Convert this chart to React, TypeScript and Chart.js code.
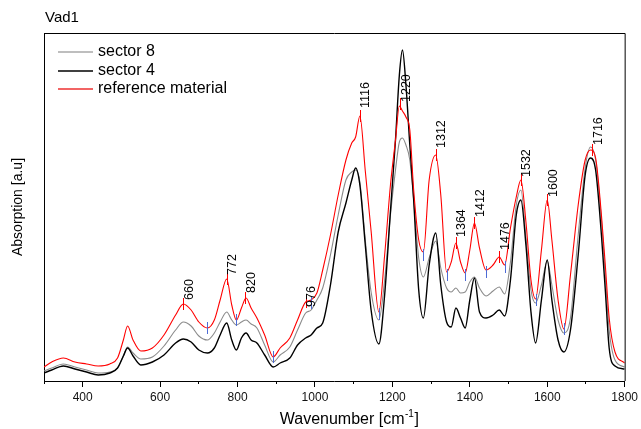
import React, { useEffect, useRef } from 'react';
import { Chart, registerables } from 'chart.js';

Chart.register(...registerables);

const FONT = 'Arial, "Liberation Sans", sans-serif';

const wavenumbers = [300,320,350,380,410,440,470,490,505,516,530,550,580,610,640,660,680,700,722,740,755,772,785,797,810,822,835,850,870,892,910,935,955,976,990,1005,1020,1040,1060,1080,1095,1105,1116,1130,1145,1165,1180,1195,1208,1218,1226,1235,1245,1255,1268,1280,1295,1312,1325,1340,1352,1364,1376,1388,1400,1412,1425,1442,1460,1476,1490,1505,1520,1532,1545,1558,1570,1585,1600,1612,1628,1643,1660,1680,1698,1712,1725,1740,1750,1760,1775,1800];

const sector8 = [0.10,0.13,0.17,0.14,0.11,0.08,0.09,0.13,0.25,0.34,
0.28,0.22,0.24,0.35,0.51,0.59,0.55,0.45,0.41,0.48,
0.59,0.69,0.61,0.56,0.59,0.61,0.57,0.53,0.36,0.19,
0.26,0.34,0.51,0.68,0.71,0.81,0.93,1.26,1.66,2.01,
2.09,2.11,1.99,1.41,0.89,0.61,1.01,1.66,2.11,2.39,
2.43,2.36,2.21,1.81,1.23,1.04,1.23,1.40,1.13,0.93,
0.89,0.93,0.88,0.89,0.99,1.04,0.93,0.85,0.90,0.94,
0.87,1.19,1.76,1.91,1.43,0.91,0.78,0.96,1.20,0.96,
0.61,0.48,0.63,1.46,2.13,2.34,2.21,1.61,1.06,0.51,
0.21,0.14];

const sector4 = [0.08,0.11,0.15,0.12,0.09,0.06,0.08,0.13,0.25,0.33,
0.25,0.16,0.19,0.26,0.38,0.42,0.39,0.31,0.28,0.33,
0.46,0.58,0.41,0.31,0.43,0.48,0.41,0.38,0.26,0.14,
0.18,0.23,0.36,0.43,0.46,0.53,0.58,0.96,1.49,1.78,
2.01,2.13,1.96,1.36,0.71,0.37,0.86,1.70,2.41,3.06,
3.31,2.96,2.36,1.81,0.91,0.63,1.16,1.48,0.96,0.59,
0.54,0.73,0.63,0.53,0.81,1.03,0.69,0.63,0.66,0.71,
0.65,1.01,1.66,1.81,1.36,0.69,0.38,0.81,1.21,0.81,
0.41,0.29,0.51,1.26,2.06,2.23,2.11,1.46,0.91,0.33,
0.15,0.12];

const referenceMaterial = [0.14,0.19,0.23,0.19,0.17,0.15,0.17,0.23,0.41,0.55,
0.41,0.30,0.33,0.46,0.66,0.77,0.71,0.59,0.53,0.61,
0.81,1.02,0.76,0.61,0.73,0.83,0.73,0.63,0.46,0.24,
0.33,0.43,0.61,0.79,0.81,0.88,1.11,1.46,1.86,2.21,
2.38,2.44,2.65,2.10,1.50,0.69,1.26,1.96,2.41,2.75,
2.70,2.64,2.51,1.91,1.41,1.29,2.01,2.26,1.86,1.09,
1.19,1.38,1.19,1.08,1.31,1.58,1.33,1.11,1.16,1.24,
1.16,1.53,1.84,2.01,1.59,1.01,0.82,1.31,1.81,1.41,
0.81,0.52,1.06,1.76,2.21,2.31,2.23,1.66,1.16,0.63,
0.29,0.18];

const seriesNames = ['sector 8', 'sector 4', 'reference material'];
const seriesColors = ['#8a8a8a', '#000000', '#ff0000'];
const legendColors = ['#a8a8a8', '#000000', '#ee3030'];

const majorTicks = [400, 600, 800, 1000, 1200, 1400, 1600, 1800];
const minorTicks = [300, 500, 700, 900, 1100, 1300, 1500, 1700];

const peakLabels = [660, 772, 820, 976, 1116, 1220, 1312, 1364, 1412, 1476, 1532, 1600, 1716];
const peakHeights = [0.77, 1.02, 0.83, 0.79, 2.65, 2.77, 2.26, 1.38, 1.58, 1.24, 2.01, 1.81, 2.31];
const labelBases = [0.81, 1.06, 0.88, 0.74, 2.73, 2.79, 2.33, 1.44, 1.64, 1.31, 2.04, 1.84, 2.36];

const minimaWn = [722, 797, 892, 990, 1165, 1280, 1340, 1388, 1442, 1490, 1570, 1643];
const minimaHeights = [0.53, 0.61, 0.24, 0.78, 0.67, 1.26, 1.06, 1.06, 1.09, 1.14, 0.81, 0.52];

const chartTitle = 'Vad1';
const xTitleMain = 'Wavenumber [cm';
const xTitleSup = '-1';
const xTitleEnd = ']';
const yTitle = 'Absorption [a.u]';

const decorPlugin = {
  id: 'decor',
  afterDatasetsDraw(chart: any) {
    const { ctx, scales } = chart;
    const xs = scales.x;
    const ys = scales.y;
    ctx.save();
    ctx.lineWidth = 1;
    ctx.strokeStyle = '#4d6bd6';
    minimaWn.forEach((w, i) => {
      const px = Math.round(xs.getPixelForValue(w)) + 0.5;
      const py = ys.getPixelForValue(minimaHeights[i]);
      ctx.beginPath();
      ctx.moveTo(px, py - 6);
      ctx.lineTo(px, py + 6);
      ctx.stroke();
    });
    ctx.strokeStyle = '#ff0000';
    peakLabels.forEach((w, i) => {
      const px = Math.round(xs.getPixelForValue(w)) + 0.5;
      const py = ys.getPixelForValue(peakHeights[i]);
      ctx.beginPath();
      ctx.moveTo(px, py - 6);
      ctx.lineTo(px, py + 6);
      ctx.stroke();
    });
    ctx.fillStyle = '#000000';
    ctx.font = `12.5px ${FONT}`;
    ctx.textAlign = 'left';
    ctx.textBaseline = 'middle';
    peakLabels.forEach((w, i) => {
      const px = xs.getPixelForValue(w) + 6;
      const py = ys.getPixelForValue(labelBases[i]);
      ctx.save();
      ctx.translate(px, py);
      ctx.rotate(-Math.PI / 2);
      ctx.fillText(String(w), 0, 0);
      ctx.restore();
    });
    ctx.restore();
  },
  afterDraw(chart: any) {
    const { ctx, chartArea: a } = chart;
    ctx.save();
    // frame
    ctx.strokeStyle = '#000000';
    ctx.lineWidth = 1;
    ctx.beginPath();
    ctx.moveTo(a.left, a.top + 0.5);
    ctx.lineTo(a.right + 0.5, a.top + 0.5);
    ctx.lineTo(a.right + 0.5, a.bottom);
    ctx.stroke();
    // legend
    ctx.font = `16px ${FONT}`;
    ctx.textAlign = 'left';
    ctx.textBaseline = 'middle';
    seriesNames.forEach((name, i) => {
      const y = Math.round(a.top + 19 + i * 18.5);
      ctx.strokeStyle = legendColors[i];
      ctx.lineWidth = 1.3;
      ctx.beginPath();
      ctx.moveTo(a.left + 14, y);
      ctx.lineTo(a.left + 49, y);
      ctx.stroke();
      ctx.fillStyle = '#000000';
      ctx.fillText(name, a.left + 54, y);
    });
    // chart title
    ctx.font = `15px ${FONT}`;
    ctx.fillStyle = '#000000';
    ctx.fillText(chartTitle, a.left + 1, 18);
    // x title with superscript
    const big = `16px ${FONT}`;
    const small = `10px ${FONT}`;
    ctx.font = big;
    const w1 = ctx.measureText(xTitleMain).width;
    const w3 = ctx.measureText(xTitleEnd).width;
    ctx.font = small;
    const w2 = ctx.measureText(xTitleSup).width;
    const total = w1 + w2 + w3 + 1;
    const cx = (a.left + a.right) / 2 + 15;
    let x = cx - total / 2;
    const ty = chart.height - 9;
    ctx.font = big;
    ctx.fillText(xTitleMain, x, ty);
    x += w1 + 0.5;
    ctx.font = small;
    ctx.fillText(xTitleSup, x, ty - 6);
    x += w2 + 0.5;
    ctx.font = big;
    ctx.fillText(xTitleEnd, x, ty);
    ctx.restore();
  },
};

export default function App() {
  const canvasRef = useRef<HTMLCanvasElement | null>(null);

  useEffect(() => {
    const canvas = canvasRef.current;
    if (!canvas) return;
    const mk = (vals: number[]) => wavenumbers.map((w, i) => ({ x: w, y: vals[i] }));
    const chart = new Chart(canvas, {
      type: 'line',
      data: {
        datasets: [
          { label: seriesNames[0], data: mk(sector8), borderColor: seriesColors[0], borderWidth: 1.1, order: 2 },
          { label: seriesNames[1], data: mk(sector4), borderColor: seriesColors[1], borderWidth: 1.4, order: 1 },
          { label: seriesNames[2], data: mk(referenceMaterial), borderColor: seriesColors[2], borderWidth: 1.1, order: 0 },
        ].map((d) => ({
          ...d,
          pointRadius: 0,
          pointHoverRadius: 0,
          fill: false,
          tension: 0.4,
          cubicInterpolationMode: 'monotone' as const,
          xAxisID: 'x',
          yAxisID: 'y',
        })),
      },
      options: {
        responsive: false,
        animation: false,
        devicePixelRatio: 1,
        events: [],
        layout: { padding: { top: 33, right: 14, left: 0, bottom: 0 } },
        plugins: {
          legend: { display: false },
          title: { display: false },
          tooltip: { enabled: false },
        },
        scales: {
          x: {
            type: 'linear',
            position: 'bottom',
            min: 300,
            max: 1800,
            weight: 1,
            afterBuildTicks: (axis: any) => {
              axis.ticks = majorTicks.map((v) => ({ value: v }));
            },
            afterFit: (axis: any) => {
              axis.height = 48;
            },
            ticks: {
              callback: (v: any) => String(v),
              color: '#111111',
              font: { family: FONT, size: 12 },
              padding: 3,
              maxRotation: 0,
              autoSkip: false,
            },
            grid: {
              display: true,
              drawOnChartArea: false,
              drawTicks: true,
              tickLength: 6,
              color: '#000000',
              lineWidth: 1,
            },
            border: { display: true, color: '#000000', width: 1 },
            title: { display: false },
          },
          xMinor: {
            type: 'linear',
            position: 'bottom',
            min: 300,
            max: 1800,
            weight: 0,
            afterBuildTicks: (axis: any) => {
              axis.ticks = minorTicks.map((v) => ({ value: v }));
            },
            afterFit: (axis: any) => {
              axis.height = 0;
            },
            ticks: { display: false },
            grid: {
              display: true,
              drawOnChartArea: false,
              drawTicks: true,
              tickLength: 3,
              color: '#000000',
              lineWidth: 1,
            },
            border: { display: false },
          },
          y: {
            type: 'linear',
            position: 'left',
            min: 0,
            max: 3.48,
            afterFit: (axis: any) => {
              axis.width = 44;
            },
            ticks: { display: false },
            grid: { display: false, drawTicks: false },
            border: { display: true, color: '#000000', width: 1 },
            title: {
              display: true,
              text: yTitle,
              color: '#000000',
              font: { family: FONT, size: 14 },
              padding: { top: 10, bottom: 0 },
            },
          },
        },
      },
      plugins: [decorPlugin],
    } as any);
    return () => chart.destroy();
  }, []);

  return (
    <div style={{ position: 'absolute', left: 0, top: 0, width: 641, height: 429, background: '#ffffff' }}>
      <canvas ref={canvasRef} width={641} height={429} style={{ display: 'block', width: 641, height: 429 }} />
    </div>
  );
}
